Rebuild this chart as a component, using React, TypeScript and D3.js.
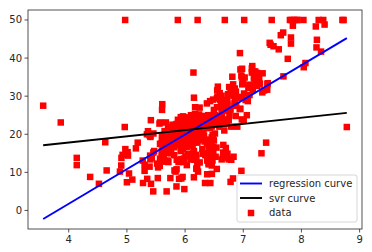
import React from "react";
import * as d3 from "d3";

// Scatter data: rooms (x) vs value (y)
const rm: number[] = [
6.575,6.421,7.185,6.998,7.147,6.430,6.012,6.172,5.631,6.004,6.377,6.009,5.889,5.949,6.096,5.834,5.935,5.990,5.456,5.727,
5.570,5.965,6.142,5.813,5.924,5.599,5.813,6.047,6.495,6.674,5.713,6.072,5.950,5.701,6.096,5.933,5.841,5.850,5.966,6.595,
7.024,6.770,6.169,6.211,6.069,5.682,5.786,6.030,5.399,5.602,5.963,6.115,6.511,5.998,5.888,7.249,6.383,6.816,6.145,5.927,
5.741,5.966,6.456,6.762,7.104,6.290,5.787,5.878,5.594,5.885,6.417,5.961,6.065,6.245,6.273,6.286,6.279,6.140,6.232,5.874,
6.727,6.619,6.302,6.167,6.389,6.630,6.015,6.121,7.007,7.079,6.417,6.405,6.442,6.211,6.249,6.625,6.163,8.069,7.820,7.416,
6.727,6.781,6.405,6.137,6.167,5.851,5.836,6.127,6.474,6.229,6.195,6.715,5.913,6.092,6.254,5.928,6.176,6.021,5.872,5.731,
5.870,6.004,5.961,5.856,5.879,5.986,5.613,5.693,6.431,5.637,6.458,6.326,6.372,5.822,5.757,6.335,5.942,6.454,5.857,6.151,
6.174,5.019,5.403,5.468,4.903,6.130,5.628,4.926,5.186,5.597,6.122,5.404,5.012,5.709,6.129,6.152,5.272,6.943,6.066,6.510,
6.250,7.489,7.802,8.375,5.854,6.101,7.929,5.877,6.319,6.402,5.875,5.880,5.572,6.416,5.859,6.546,6.020,6.315,6.860,6.980,
7.765,6.144,7.155,6.563,5.604,6.153,7.831,6.782,6.556,7.185,6.951,6.739,7.178,6.800,6.604,7.875,7.287,7.107,7.274,6.975,
7.135,6.162,7.610,7.853,8.034,5.891,6.326,5.783,6.064,5.344,5.960,5.404,5.807,6.375,5.412,6.182,5.888,6.642,5.951,6.373,
6.951,6.164,6.879,6.618,8.266,8.725,8.040,7.163,7.686,6.552,5.981,7.412,8.337,8.247,6.726,6.086,6.631,7.358,6.481,6.606,
6.897,6.095,6.358,6.393,5.593,5.605,6.108,6.226,6.433,6.718,6.487,6.438,6.957,8.259,6.108,5.876,7.454,8.704,7.333,6.842,
7.203,7.520,8.398,7.327,7.206,5.560,7.014,8.297,7.470,5.920,5.856,6.240,6.538,7.691,6.758,6.854,7.267,6.826,6.482,6.812,
7.820,6.968,7.645,7.923,7.088,6.453,6.230,6.209,6.315,6.565,6.861,7.148,6.630,6.127,6.009,6.678,6.549,5.790,6.345,7.041,
6.871,6.590,6.495,6.982,7.236,6.616,7.420,6.849,6.635,5.972,4.973,6.122,6.023,6.266,6.567,5.705,5.914,5.782,6.382,6.113,
6.426,6.376,6.041,5.708,6.415,6.431,6.312,6.083,5.868,6.333,6.144,5.706,6.031,6.316,6.310,6.037,5.869,5.895,6.059,5.985,
5.968,7.241,6.540,6.696,6.874,6.014,5.898,6.516,6.635,6.939,6.490,6.579,5.884,6.728,5.663,5.936,6.212,6.395,6.127,6.112,
6.398,6.251,5.362,5.803,8.780,3.561,4.963,3.863,4.970,6.683,7.016,6.216,5.875,4.906,4.138,7.313,6.649,6.794,6.380,6.223,
6.968,6.545,5.536,5.520,4.368,5.277,4.652,5.000,4.880,5.390,5.713,6.051,5.036,6.193,5.887,6.471,6.405,5.747,5.453,5.852,
5.987,6.343,6.404,5.349,5.531,5.683,4.138,5.608,5.617,6.852,5.757,6.657,4.628,5.155,4.519,6.434,6.782,5.304,5.957,6.824,
6.411,6.006,5.648,6.103,5.565,5.896,5.837,6.202,6.193,6.380,6.348,6.833,6.425,6.436,6.208,6.629,6.461,6.152,5.935,5.627,
5.818,6.406,6.219,6.485,5.854,6.459,6.341,6.251,6.185,6.417,6.749,6.655,6.297,7.393,6.728,6.525,5.976,5.936,6.301,6.081,
6.701,6.376,6.317,6.513,6.209,5.759,5.952,6.003,5.926,5.713,6.167,6.229,6.437,6.980,5.427,6.162,6.484,5.304,6.185,6.229,
6.242,6.750,7.061,5.762,5.871,6.312,6.114,5.905,5.454,5.414,5.093,5.983,5.983,5.707,5.926,5.670,5.390,5.794,6.019,5.569,
6.027,6.593,6.120,6.976,6.794,6.030
];

const medv: number[] = [
24.0,21.6,34.7,33.4,36.2,28.7,22.9,27.1,16.5,18.9,15.0,18.9,21.7,20.4,18.2,19.9,23.1,17.5,20.2,18.2,
13.6,19.6,15.2,14.5,15.6,13.9,16.6,14.8,18.4,21.0,12.7,14.5,13.2,13.1,13.5,18.9,20.0,21.0,24.7,30.8,
34.9,26.6,25.3,24.7,21.2,19.3,20.0,16.6,14.4,19.4,19.7,20.5,25.0,23.4,18.9,35.4,24.7,31.6,23.3,19.6,
18.7,16.0,22.2,25.0,33.0,23.5,19.4,22.0,17.4,20.9,24.2,21.7,22.8,23.4,24.1,21.4,20.0,20.8,21.2,20.3,
28.0,23.9,24.8,22.9,23.9,26.6,22.5,22.2,23.6,28.7,22.6,22.0,22.9,25.0,20.6,28.4,21.4,38.7,43.8,33.2,
27.5,26.5,18.6,19.3,20.1,19.5,19.5,20.4,19.8,19.4,21.7,22.8,18.8,18.7,18.5,18.3,21.2,19.2,20.4,19.3,
22.0,20.3,20.5,17.3,18.8,21.4,15.7,16.2,18.0,14.3,19.2,19.6,23.0,18.4,15.6,18.1,17.4,17.1,13.3,17.8,
14.0,14.4,13.4,15.6,11.8,13.8,15.6,14.6,17.8,15.4,21.5,19.6,15.3,19.4,17.0,15.6,13.1,41.3,24.3,23.3,
27.0,50.0,50.0,50.0,22.7,25.0,50.0,23.8,23.8,22.3,17.4,19.1,23.1,23.6,22.6,29.4,23.2,24.6,29.9,37.2,
39.8,36.2,37.9,32.5,26.4,29.6,50.0,32.0,29.8,34.9,37.0,30.5,36.4,31.1,29.1,50.0,33.3,30.3,34.6,34.9,
32.9,24.1,42.3,48.5,50.0,22.6,24.4,22.5,24.4,20.0,21.7,19.3,22.4,28.1,23.7,25.0,23.3,28.7,21.5,23.0,
26.7,21.7,27.5,30.1,44.8,50.0,37.6,31.6,46.7,31.5,24.3,31.7,41.7,48.3,29.0,24.0,25.1,31.5,23.7,23.3,
22.0,20.1,22.2,23.7,17.6,18.5,24.3,20.5,24.5,26.2,24.4,24.8,29.6,42.8,21.9,20.9,44.0,50.0,36.0,30.1,
33.8,43.1,48.8,31.0,36.5,22.8,30.7,50.0,43.5,20.7,21.1,25.2,24.4,35.2,32.4,32.0,33.2,33.1,29.1,35.1,
45.4,35.4,46.0,50.0,32.2,22.0,20.1,23.2,22.3,24.8,28.5,37.3,27.9,23.9,21.7,28.6,27.1,20.3,22.5,29.0,
24.8,22.0,26.4,33.1,36.1,28.4,33.4,28.2,22.8,20.3,16.1,22.1,19.4,21.6,23.8,16.2,17.8,19.8,23.1,21.0,
23.8,23.1,20.4,18.5,25.0,24.6,23.0,22.2,19.3,22.6,19.8,17.1,19.4,22.2,20.7,21.1,19.5,18.5,20.6,19.0,
18.7,32.7,16.5,23.9,31.2,17.5,17.2,23.1,24.5,26.6,22.9,24.1,18.6,30.1,18.2,20.6,17.8,21.7,22.7,22.6,
25.0,19.9,20.8,16.8,21.9,27.5,21.9,23.1,50.0,50.0,50.0,50.0,50.0,13.8,13.8,15.0,13.9,13.3,13.1,10.2,
10.4,10.9,11.3,12.3,8.8,7.2,10.5,7.4,10.2,11.5,15.1,23.2,9.7,13.8,12.7,13.1,12.5,8.5,5.0,6.3,
5.6,7.2,12.1,8.3,8.5,5.0,11.9,27.9,17.2,27.5,15.0,17.2,17.9,16.3,7.0,7.2,7.5,10.4,8.8,8.4,
16.7,14.2,20.8,13.4,11.7,8.3,10.2,10.9,11.0,9.5,14.5,14.1,16.1,14.3,11.7,13.4,9.6,8.7,8.4,12.8,
10.5,17.1,18.4,15.4,10.8,11.8,14.9,12.6,14.1,13.0,13.4,15.2,16.1,17.8,14.9,14.1,12.7,13.5,14.9,20.0,
16.4,17.7,19.5,20.2,21.4,19.9,19.0,19.1,19.1,20.1,19.9,19.6,23.2,29.8,13.8,13.3,16.7,12.0,14.6,21.4,
23.0,23.7,25.0,21.8,20.6,21.2,19.1,20.6,15.2,7.0,8.1,13.6,20.1,21.8,24.5,23.1,19.7,18.3,21.2,17.5,
16.8,22.4,20.6,23.9,22.0,11.9
];

// Fitted lines, evaluated at the ends of the x range
const lineX: number[] = [3.561, 8.78];
const regY: number[] = [-2.26, 45.24];
const svrY: number[] = [17.1, 25.6];

const xTicks: number[] = [4, 5, 6, 7, 8, 9];
const yTicks: number[] = [0, 10, 20, 30, 40, 50];
const legendLabels: string[] = ["regression curve", "svr curve", "data"];

const W = 372, H = 252;
const L = 28, R = 362, T = 10, B = 229;
const FONT = "DejaVu Sans, sans-serif";
const TXT = "#262626";

export default function App() {
  const x = d3.scaleLinear().domain([3.3, 9.041]).range([L, R]);
  const y = d3.scaleLinear().domain([-4.87, 52.62]).range([B, T]);
  const pts = rm.map((v, i) => [v, medv[i]] as [number, number]);
  const line = d3.line<[number, number]>().x(d => x(d[0])).y(d => y(d[1]));
  const regPts = lineX.map((v, i) => [v, regY[i]] as [number, number]);
  const svrPts = lineX.map((v, i) => [v, svrY[i]] as [number, number]);
  const ms = 6.5;
  const lx = 237, ly = 175, lw = 120, lh = 47;
  return (
    <svg width={W} height={H} style={{ position: "absolute", left: 0, top: 0, background: "#fff" }}>
      <g>
        {pts.map((d, i) => (
          <rect key={i} x={x(d[0]) - ms / 2} y={y(d[1]) - ms / 2} width={ms} height={ms} fill="#ff0000" />
        ))}
      </g>
      <path d={line(regPts) || ""} stroke="#0000ff" strokeWidth={1.9} fill="none" />
      <path d={line(svrPts) || ""} stroke="#000000" strokeWidth={1.9} fill="none" />
      <rect x={L} y={T} width={R - L} height={B - T} fill="none" stroke="#262626" strokeWidth={0.8} />
      {xTicks.map(t => (
        <g key={"x" + t}>
          <line x1={x(t)} x2={x(t)} y1={B} y2={B + 3.5} stroke="#262626" strokeWidth={0.8} />
          <text x={x(t)} y={B + 14} textAnchor="middle" fontFamily={FONT} fontSize={10} fill={TXT}>{t}</text>
        </g>
      ))}
      {yTicks.map(t => (
        <g key={"y" + t}>
          <line x1={L - 3.5} x2={L} y1={y(t)} y2={y(t)} stroke="#262626" strokeWidth={0.8} />
          <text x={L - 6} y={y(t) + 3.5} textAnchor="end" fontFamily={FONT} fontSize={10} fill={TXT}>{t}</text>
        </g>
      ))}
      <g>
        <rect x={lx} y={ly} width={lw} height={lh} rx={2} fill="#fff" fillOpacity={0.8} stroke="#cccccc" strokeWidth={0.8} />
        <line x1={240} x2={262} y1={183.5} y2={183.5} stroke="#0000ff" strokeWidth={1.9} />
        <line x1={240} x2={262} y1={198} y2={198} stroke="#000000" strokeWidth={1.9} />
        <rect x={251 - ms / 2} y={213 - ms / 2} width={ms} height={ms} fill="#ff0000" />
        {legendLabels.map((s, i) => (
          <text key={s} x={269} y={187 + i * 14.5} fontFamily={FONT} fontSize={10} fill={TXT}>{s}</text>
        ))}
      </g>
    </svg>
  );
}
